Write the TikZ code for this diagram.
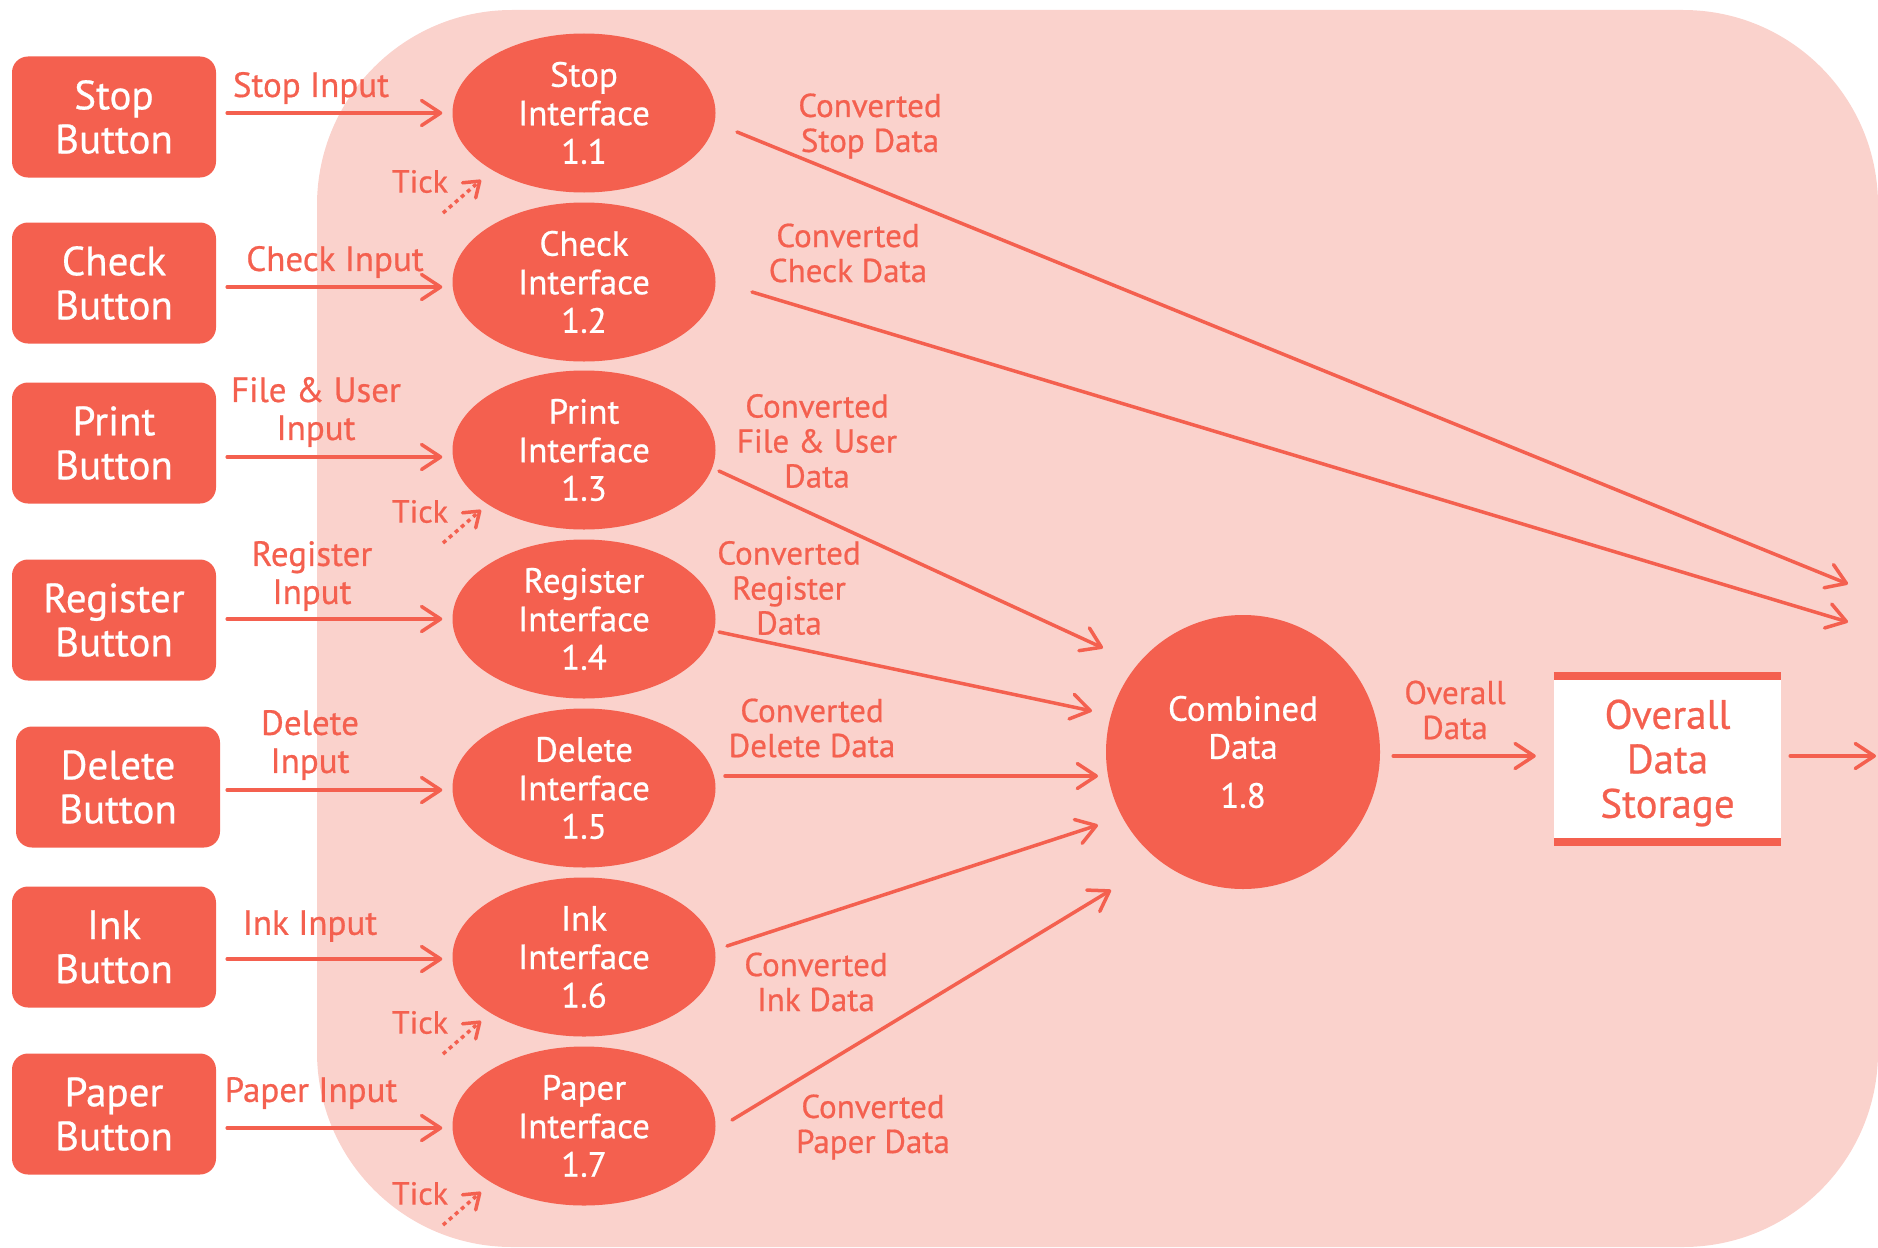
\documentclass[tikz,border=0pt]{standalone}
\usepackage{fontspec}
\setmainfont{PT Sans}[FakeBold=0.6]
\usetikzlibrary{arrows.meta,shapes.geometric,calc}
\definecolor{coral}{HTML}{F4604F}
\definecolor{pinkbg}{HTML}{FAD2CC}
\begin{document}
\begin{tikzpicture}[x=1pt,y=-1pt,
  btn/.style={rectangle, rounded corners=16pt, fill=coral, text=white, minimum width=204pt, minimum height=121pt, inner sep=0pt, align=center, font=\fontsize{41}{44}\selectfont},
  proc/.style={ellipse, fill=coral, text=white, minimum width=263pt, minimum height=159pt, inner sep=0pt, align=center, font=\fontsize{35}{38.5}\selectfont},
  lbl/.style={text=coral, align=center, inner sep=0pt, font=\fontsize{35}{38}\selectfont},
  clbl/.style={text=coral, align=center, inner sep=0pt, font=\fontsize{33}{35}\selectfont},
  ticklbl/.style={text=coral, inner sep=0pt, font=\fontsize{32}{34}\selectfont},
  flow/.style={draw=coral, line width=3.5pt, line cap=round, -{Straight Barb[length=19pt,width=25pt,round]}},
  tickflow/.style={draw=coral, line width=3.5pt, dash pattern=on 4pt off 4pt, -{Straight Barb[length=14pt,width=20pt,round]}},
]
\useasboundingbox (0,0) rectangle (1878,1247);
\fill[pinkbg, rounded corners=195pt] (317,10) rectangle (1878,1247);

% buttons
\node[btn] (sb) at (114,117) {Stop\\Button};
\node[btn] (cb) at (114,283) {Check\\Button};
\node[btn] (pb) at (114,443) {Print\\Button};
\node[btn] (rb) at (114,620) {Register\\Button};
\node[btn] (db) at (118,787) {Delete\\Button};
\node[btn] (ib) at (114,947) {Ink\\Button};
\node[btn] (ppb) at (114,1114) {Paper\\Button};

% processes
\node[proc] (si) at (584,113) {Stop\\Interface\\1.1};
\node[proc] (ci) at (584,282) {Check\\Interface\\1.2};
\node[proc] (pi) at (584,450) {Print\\Interface\\1.3};
\node[proc] (ri) at (584,619) {Register\\Interface\\1.4};
\node[proc] (di) at (584,788) {Delete\\Interface\\1.5};
\node[proc] (ii) at (584,957) {Ink\\Interface\\1.6};
\node[proc] (ppi) at (584,1126) {Paper\\Interface\\1.7};

% input arrows
\draw[flow] ($(sb.east|-si.center)+(11,0)$) -- ($(si.west)+(-10,0)$);
\draw[flow] ($(cb.east|-ci.center)+(11,5)$) -- ($(ci.west)+(-10,5)$);
\draw[flow] ($(pb.east|-pi.center)+(11,7)$) -- ($(pi.west)+(-10,7)$);
\draw[flow] ($(rb.east|-ri.center)+(11,0)$) -- ($(ri.west)+(-10,0)$);
\draw[flow] ($(db.east|-di.center)+(7,2)$) -- ($(di.west)+(-10,2)$);
\draw[flow] ($(ib.east|-ii.center)+(11,2)$) -- ($(ii.west)+(-10,2)$);
\draw[flow] ($(ppb.east|-ppi.center)+(11,2)$) -- ($(ppi.west)+(-10,2)$);

% input labels
\node[lbl] (sl) at (311,88) {Stop Input};
\node[lbl] (cl) at (335,262) {Check Input};
\node[lbl] (pl) at (316,412) {File \& User\\Input};
\node[lbl] (rl) at (312,576) {Register\\Input};
\node[lbl] (dl) at (310,745) {Delete\\Input};
\node[lbl] (il) at (310,926) {Ink Input};
\node[lbl] (ppl) at (311,1093) {Paper Input};

% ticks
\node[ticklbl] (t1) at (420,181.5) {Tick};
\node[ticklbl] (t3) at (420,511.5) {Tick};
\node[ticklbl] (t6) at (420,1022.5) {Tick};
\node[ticklbl] (t7) at (420,1193.5) {Tick};
\coordinate (t1a) at (443,213); \coordinate (t1b) at (481,180);
\coordinate (t3a) at (443,543); \coordinate (t3b) at (481,510);
\coordinate (t6a) at (443,1054); \coordinate (t6b) at (481,1021);
\coordinate (t7a) at (443,1225); \coordinate (t7b) at (481,1192);
\draw[tickflow] (t1a) -- (t1b);
\draw[tickflow] (t3a) -- (t3b);
\draw[tickflow] (t6a) -- (t6b);
\draw[tickflow] (t7a) -- (t7b);

% combined data
\node[circle, fill=coral, text=white, minimum size=274pt, inner sep=0pt, align=center, font=\fontsize{35}{38}\selectfont] (cd) at (1243,752) {Combined\\Data\\[11pt]1.8};

% storage
\node[fill=white, minimum width=227pt, minimum height=166pt, inner sep=0pt, text=coral, align=center, font=\fontsize{41}{44.5}\selectfont] (st) at (1667.5,763) {Overall\\Data\\Storage};
\draw[coral, line width=8pt] ([yshift=4pt]st.north west) -- ([yshift=4pt]st.north east);
\draw[coral, line width=8pt] ([yshift=4pt]st.south west) -- ([yshift=4pt]st.south east);

% converted flows
\coordinate (s1) at (737,132); \coordinate (e1) at (1848,584);
\coordinate (s2) at (752,292); \coordinate (e2) at (1848,622);
\coordinate (s3) at (719,471); \coordinate (e3) at (1103,648);
\coordinate (s4) at (719,632); \coordinate (e4) at (1092,711);
\coordinate (s5) at (725,776); \coordinate (e5) at (1098,776);
\coordinate (s6) at (727,946); \coordinate (e6) at (1098,825);
\coordinate (s7) at (732,1120); \coordinate (e7) at (1111,890);
\draw[flow] (s1) -- (e1);
\draw[flow] (s2) -- (e2);
\draw[flow] (s3) -- (e3);
\draw[flow] (s4) -- (e4);
\draw[flow] (s5) -- (e5);
\draw[flow] (s6) -- (e6);
\draw[flow] (s7) -- (e7);

\node[clbl] (csl) at (870,126) {Converted\\Stop Data};
\node[clbl] (ccl) at (848,253) {Converted\\Check Data};
\node[clbl] (cpl) at (817,441) {Converted\\File \& User\\Data};
\node[clbl] (crl) at (789,588) {Converted\\Register\\Data};
\node[clbl] (cdl) at (812,728) {Converted\\Delete Data};
\node[clbl] (cil) at (816,982) {Converted\\Ink Data};
\node[clbl] (cppl) at (873,1127) {Converted\\Paper Data};

% overall data
\coordinate (oy) at (0,756);
\draw[flow] ($(cd.east|-oy)+(13,0)$) -- ($(st.west|-oy)+(-18,0)$);
\node[clbl] (odl) at (1455,710) {Overall\\Data};
\coordinate (outend) at (1876,756);
\draw[flow] ($(st.east|-outend)+(9,0)$) -- (outend);
\end{tikzpicture}
\end{document}
